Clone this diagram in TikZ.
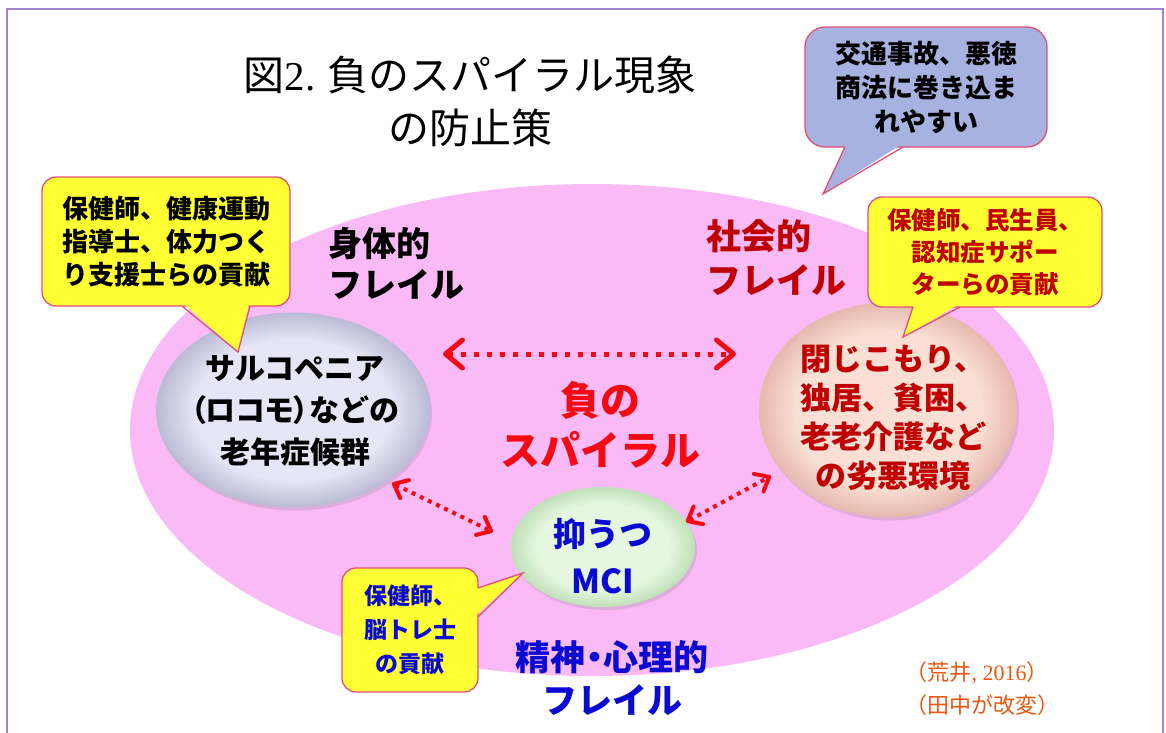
\documentclass[tikz,border=0pt]{standalone}
\usepackage{fontspec}
\setmainfont{Noto Sans CJK JP}
\newfontfamily\tms{Liberation Serif}
\usetikzlibrary{arrows.meta,shapes.geometric,shadows}

\definecolor{frame}{RGB}{160,130,205}
\definecolor{pinkbg}{RGB}{250,186,246}
\definecolor{cyell}{RGB}{255,255,51}
\definecolor{cborder}{RGB}{225,80,120}
\definecolor{cblue}{RGB}{168,178,224}
\definecolor{dred}{RGB}{192,0,0}
\definecolor{tblue}{RGB}{10,10,210}
\definecolor{sred}{RGB}{245,10,20}
\definecolor{corange}{RGB}{232,88,16}
\definecolor{lavIn}{RGB}{230,230,246}
\definecolor{lavOut}{RGB}{186,186,212}
\definecolor{peachIn}{RGB}{250,224,212}
\definecolor{peachOut}{RGB}{230,184,174}
\definecolor{grnIn}{RGB}{230,247,224}
\definecolor{grnOut}{RGB}{192,224,184}

\pgfdeclareradialshading{lavsh}{\pgfpointorigin}{color(0bp)=(lavIn); color(18bp)=(lavIn); color(25bp)=(lavOut); color(50bp)=(lavOut)}
\pgfdeclareradialshading{peachsh}{\pgfpointorigin}{color(0bp)=(peachIn); color(18bp)=(peachIn); color(25bp)=(peachOut); color(50bp)=(peachOut)}
\pgfdeclareradialshading{grnsh}{\pgfpointorigin}{color(0bp)=(grnIn); color(18bp)=(grnIn); color(25bp)=(grnOut); color(50bp)=(grnOut)}

\begin{document}
\begin{tikzpicture}[x=1pt,y=-1pt,
  callbox/.style={rectangle, rounded corners=14pt, draw=cborder, line width=1.3pt, inner sep=0pt, align=center, font=\bfseries\fontsize{26}{33}\selectfont},
  ptr/.style={draw=cborder, line width=1.3pt, line join=miter},
  inell/.style={ellipse, inner sep=0pt, draw=none, shade, drop shadow={shadow xshift=2pt, shadow yshift=-3pt, opacity=0.22}},
  lbl/.style={font=\bfseries\fontsize{34}{41}\selectfont, align=left},
  bigarr/.style={draw=sred, line width=5pt, dash pattern=on 5pt off 8pt, {Straight Barb[length=17pt,width=28pt,round]}-{Straight Barb[length=17pt,width=28pt,round]}},
  smarr/.style={draw=sred, line width=4pt, dash pattern=on 4pt off 5pt, {Straight Barb[length=12pt,width=20pt,round]}-{Straight Barb[length=12pt,width=20pt,round]}}
]
\useasboundingbox (0,0) rectangle (1166,732);
\fill[white] (0,0) rectangle (1166,732);
\draw[frame, line width=2pt] (7,9) rectangle (1163,745);

% background ellipse
\node[ellipse, fill=pinkbg, minimum width=924pt, minimum height=492pt, inner sep=0pt] (bg) at (592,430) {};

% title
\node[font=\fontsize{41}{53}\selectfont, align=center] (title) at (470,101) {図{\tms 2.} 負のスパイラル現象\\の防止策};

% inner ellipses
\node[inell, shading=lavsh, minimum width=274pt, minimum height=195pt] (sarc) at (293,410) {};
\node[inell, shading=peachsh, minimum width=258pt, minimum height=215pt] (env) at (888,410) {};
\node[inell, shading=grnsh, minimum width=184pt, minimum height=120pt] (mci) at (603,547) {};

\node[font=\bfseries\fontsize{30}{42}\selectfont, align=center] (sarcT) at (295,411) {サルコペニア\\{\addfontfeatures{RawFeature=+palt}（ロコモ）}などの\\老年症候群};
\node[font=\bfseries\fontsize{31}{39}\selectfont, align=center, text=dred] (envT) at (893,418) {閉じこもり、\\独居、貧困、\\老老介護など\\の劣悪環境};
\node[font=\bfseries\fontsize{33}{47}\selectfont, align=center, text=tblue] (mciT) at (603,556) {抑うつ\\MCI};

% callouts
\node[callbox, fill=cyell, minimum width=248pt, minimum height=129pt] (cbL) at (166,241.5) {保健師、健康運動\\指導士、体力つく\\り支援士らの貢献};
\fill[cyell] (183,303) -- (238,352) -- (249,303) -- cycle;
\draw[ptr] (182,306) -- (238,352) -- (250,306);

\node[callbox, fill=cyell, text=dred, minimum width=234pt, minimum height=110pt, font=\bfseries\fontsize{24.5}{32}\selectfont] (cbR) at (985,252) {保健師、民生員、\\認知症サポー\\ターらの貢献};
\fill[cyell] (914,304) -- (903,337) -- (959,304) -- cycle;
\draw[ptr] (913,307) -- (903,337) -- (960,307);

\node[callbox, fill=cblue, rounded corners=20pt, minimum width=242pt, minimum height=120pt, font=\bfseries\fontsize{26}{34}\selectfont] (cbT) at (926,87) {交通事故、悪徳\\商法に巻き込ま\\れやすい};
\fill[cblue] (846,144) -- (823,194) -- (902,144) -- cycle;
\draw[ptr] (845,147) -- (823,194) -- (903,147);

\node[callbox, fill=cyell, text=tblue, minimum width=136pt, minimum height=124pt, font=\bfseries\fontsize{23}{34}\selectfont] (cbM) at (410,630) {保健師、\\脳トレ士\\の貢献};
\fill[cyell] (475,589) -- (523,573) -- (475,616) -- cycle;
\draw[ptr] (478,588) -- (523,573) -- (478,617);

% labels
\node[lbl, anchor=west] (phys) at (325,263) {身体的\\フレイル};
\node[lbl, anchor=west, text=dred, font=\bfseries\fontsize{35}{44}\selectfont] (soc) at (703,258) {社会的\\フレイル};
\node[font=\bfseries\fontsize{40}{50}\selectfont, align=center, text=sred] (spiral) at (600,425) {負の\\スパイラル};
\node[font=\bfseries\fontsize{35}{43}\selectfont, align=center, text=tblue] (psy) at (612,678) {精神{\addfontfeatures{RawFeature=+palt}・}心理的\\フレイル};
\node[font=\fontsize{22}{33}\selectfont, align=left, anchor=west, text=corange] (cite) at (902,689) {（荒井{\tms , 2016}）\\（田中が改変）};

% arrows
\coordinate (hL) at (443,354);
\coordinate (hR) at (736,354);
\draw[bigarr] (hL) -- (hR);
\coordinate (dL1) at (392,483);
\coordinate (dL2) at (493,532);
\draw[smarr] (dL1) -- (dL2);
\coordinate (dR1) at (771,476);
\coordinate (dR2) at (686,522);
\draw[smarr] (dR2) -- (dR1);
\end{tikzpicture}
\end{document}
